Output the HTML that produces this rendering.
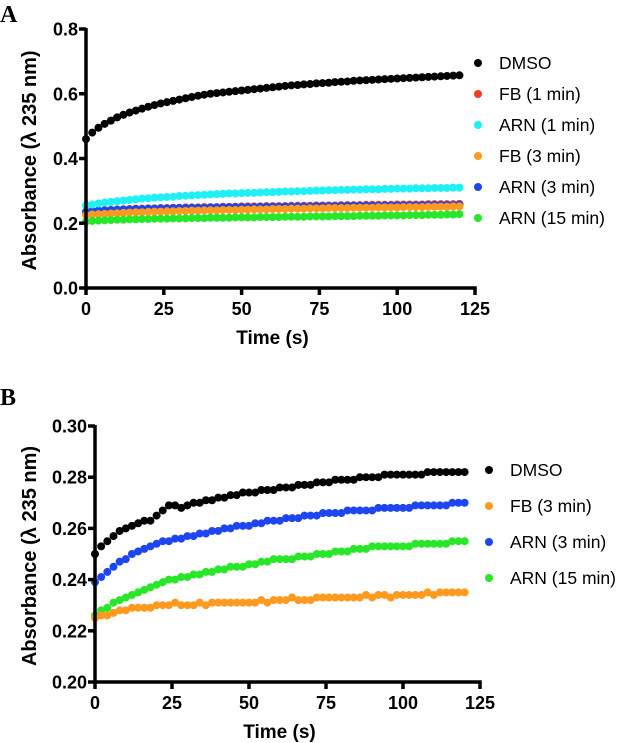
<!DOCTYPE html>
<html><head><meta charset="utf-8"><style>
html,body{margin:0;padding:0;background:#fff;}
svg{display:block;font-family:"Liberation Sans",Arial,sans-serif;}
.tick{font-size:18px;font-weight:bold;}
.title{font-size:20px;font-weight:bold;}
.xtitle{font-size:19px;font-weight:bold;}
.leg{font-size:17.5px;}
.panel{font-family:"Liberation Serif",serif;font-size:24px;font-weight:bold;}
</style></head><body>
<svg id="chart" width="633" height="743" viewBox="0 0 633 743"></svg>
<script>
// ---------- DATA ----------
const timesA = [];
for (let i = 0; i <= 60; i++) timesA.push(i * 2);
const timesB = timesA;
const xTicks = [0, 25, 50, 75, 100, 125];
const yTicksA = [0.0, 0.2, 0.4, 0.6, 0.8];
const yTickLabelsA = ["0.0", "0.2", "0.4", "0.6", "0.8"];
const yTicksB = [0.20, 0.22, 0.24, 0.26, 0.28, 0.30];
const yTickLabelsB = ["0.20", "0.22", "0.24", "0.26", "0.28", "0.30"];

const aDMSO = [0.46,0.48,0.495,0.507,0.517,0.527,0.535,0.542,0.548,0.554,0.560,0.565,0.570,0.574,0.578,0.582,0.586,0.590,0.594,0.597,0.600,0.602,0.604,0.606,0.608,0.610,0.612,0.614,0.616,0.618,0.620,0.622,0.624,0.626,0.627,0.629,0.630,0.632,0.633,0.634,0.636,0.637,0.638,0.640,0.641,0.642,0.643,0.644,0.645,0.646,0.647,0.648,0.649,0.650,0.651,0.652,0.653,0.654,0.655,0.656,0.657];
const aFB1 = [0.235,0.237,0.239,0.240,0.241,0.242,0.243,0.244,0.245,0.245,0.246,0.246,0.247,0.247,0.248,0.248,0.249,0.249,0.249,0.250,0.250,0.250,0.251,0.251,0.251,0.252,0.252,0.252,0.252,0.253,0.253,0.253,0.253,0.254,0.254,0.254,0.254,0.255,0.255,0.255,0.255,0.256,0.256,0.256,0.256,0.257,0.257,0.257,0.257,0.257,0.258,0.258,0.258,0.258,0.258,0.259,0.259,0.259,0.259,0.259,0.260];
const aARN1 = [0.255,0.258,0.261,0.264,0.266,0.268,0.270,0.272,0.274,0.276,0.277,0.279,0.280,0.281,0.282,0.284,0.285,0.286,0.287,0.288,0.289,0.290,0.291,0.292,0.292,0.293,0.294,0.294,0.295,0.296,0.296,0.297,0.298,0.298,0.299,0.299,0.300,0.301,0.301,0.302,0.302,0.303,0.303,0.304,0.304,0.305,0.305,0.305,0.306,0.306,0.307,0.307,0.307,0.308,0.308,0.308,0.309,0.309,0.309,0.310,0.310];
const aFB3 = [0.225,0.227,0.228,0.229,0.230,0.231,0.232,0.233,0.234,0.234,0.235,0.236,0.236,0.237,0.237,0.238,0.238,0.239,0.239,0.240,0.240,0.240,0.241,0.241,0.241,0.242,0.242,0.243,0.243,0.243,0.244,0.244,0.244,0.245,0.245,0.245,0.246,0.246,0.246,0.247,0.247,0.247,0.247,0.248,0.248,0.248,0.248,0.249,0.249,0.249,0.249,0.250,0.250,0.250,0.250,0.251,0.251,0.251,0.251,0.252,0.252];
const aARN3 = [0.236,0.238,0.239,0.240,0.241,0.242,0.243,0.243,0.244,0.244,0.245,0.245,0.246,0.246,0.247,0.247,0.247,0.248,0.248,0.248,0.249,0.249,0.249,0.249,0.250,0.250,0.250,0.250,0.251,0.251,0.251,0.251,0.252,0.252,0.252,0.252,0.252,0.253,0.253,0.253,0.253,0.253,0.254,0.254,0.254,0.254,0.254,0.254,0.255,0.255,0.255,0.255,0.255,0.255,0.256,0.256,0.256,0.256,0.256,0.256,0.257];
const aARN15 = [0.205,0.207,0.208,0.209,0.210,0.211,0.211,0.212,0.212,0.213,0.213,0.214,0.214,0.214,0.215,0.215,0.215,0.216,0.216,0.216,0.217,0.217,0.217,0.217,0.218,0.218,0.218,0.218,0.219,0.219,0.219,0.219,0.220,0.220,0.220,0.220,0.221,0.221,0.221,0.221,0.222,0.222,0.222,0.222,0.223,0.223,0.223,0.223,0.224,0.224,0.224,0.224,0.225,0.225,0.225,0.226,0.226,0.226,0.227,0.227,0.228];

const bDMSO = [0.250,0.253,0.255,0.257,0.259,0.260,0.261,0.262,0.263,0.263,0.265,0.267,0.269,0.269,0.268,0.269,0.270,0.270,0.271,0.271,0.272,0.272,0.273,0.273,0.274,0.274,0.274,0.275,0.275,0.275,0.276,0.276,0.276,0.277,0.277,0.277,0.278,0.278,0.278,0.279,0.279,0.279,0.279,0.280,0.280,0.280,0.280,0.281,0.281,0.281,0.281,0.281,0.281,0.281,0.282,0.282,0.282,0.282,0.282,0.282,0.282];
const bARN3 = [0.239,0.241,0.243,0.245,0.247,0.248,0.250,0.251,0.252,0.253,0.254,0.255,0.255,0.256,0.256,0.257,0.257,0.258,0.258,0.259,0.259,0.260,0.260,0.261,0.261,0.261,0.262,0.262,0.263,0.263,0.263,0.264,0.264,0.264,0.265,0.265,0.265,0.266,0.266,0.266,0.266,0.267,0.267,0.267,0.267,0.267,0.268,0.268,0.268,0.268,0.268,0.268,0.269,0.269,0.269,0.269,0.269,0.269,0.270,0.270,0.270];
const bARN15 = [0.226,0.228,0.229,0.231,0.232,0.233,0.234,0.235,0.236,0.237,0.238,0.239,0.240,0.240,0.241,0.241,0.242,0.242,0.243,0.243,0.244,0.244,0.245,0.245,0.245,0.246,0.246,0.247,0.247,0.248,0.248,0.248,0.248,0.249,0.249,0.249,0.250,0.250,0.250,0.251,0.251,0.251,0.252,0.252,0.252,0.253,0.253,0.253,0.253,0.253,0.253,0.253,0.254,0.254,0.254,0.254,0.254,0.254,0.255,0.255,0.255];
const bFB3 = [0.225,0.226,0.226,0.227,0.228,0.228,0.229,0.229,0.229,0.229,0.230,0.230,0.230,0.231,0.230,0.230,0.230,0.231,0.230,0.231,0.231,0.231,0.231,0.231,0.231,0.231,0.231,0.232,0.231,0.232,0.232,0.232,0.233,0.232,0.232,0.232,0.233,0.233,0.233,0.233,0.233,0.233,0.233,0.233,0.234,0.233,0.234,0.234,0.233,0.234,0.234,0.234,0.234,0.234,0.235,0.234,0.235,0.235,0.235,0.235,0.235];

const seriesA = [
  {name:"DMSO", key:"dmso", color:"#000000", values:aDMSO},
  {name:"FB (1 min)", key:"fb-1min", color:"#f23c1e", values:aFB1},
  {name:"ARN (1 min)", key:"arn-1min", color:"#1ef0f5", values:aARN1},
  {name:"FB (3 min)", key:"fb-3min", color:"#ff9a1e", values:aFB3},
  {name:"ARN (3 min)", key:"arn-3min", color:"#1e46f0", values:aARN3},
  {name:"ARN (15 min)", key:"arn-15min", color:"#28e628", values:aARN15}
];
const drawOrderA = [0,1,4,2,3,5];
const seriesB = [
  {name:"DMSO", key:"dmso", color:"#000000", values:bDMSO},
  {name:"FB (3 min)", key:"fb-3min", color:"#ff9a1e", values:bFB3},
  {name:"ARN (3 min)", key:"arn-3min", color:"#1e46f0", values:bARN3},
  {name:"ARN (15 min)", key:"arn-15min", color:"#28e628", values:bARN15}
];

// ---------- DRAW ----------
const NS = "http://www.w3.org/2000/svg";
const svg = document.getElementById("chart");
function mk(tag, attrs, parent, text) {
  const e = document.createElementNS(NS, tag);
  for (const k in attrs) e.setAttribute(k, attrs[k]);
  if (text !== undefined) e.textContent = text;
  (parent || svg).appendChild(e);
  return e;
}

function panel(cfg) {
  const g = mk("g", {});
  
  
  const xs = v => cfg.x0 + (v - 0) / 125 * (cfg.x1 - cfg.x0);
  const ys = v => cfg.yb - (v - cfg.ymin) / (cfg.ymax - cfg.ymin) * (cfg.yb - cfg.yt);

  const lbl = mk("text", {x: 0, y: cfg.ly, class: "panel"}, g, cfg.label);
  
  

  cfg.order.forEach(i => {
    const s = cfg.series[i];
    const sg = mk("g", {fill: s.color}, g);
    
    
    s.values.forEach((v, j) => {
      const c = mk("circle", {cx: xs(cfg.times[j]), cy: ys(v), r: 4}, sg);
      
      
    });
  });

  const ax = mk("g", {stroke: "#000", "stroke-width": 3.5, fill: "none"}, g);
  
  
  mk("line", {x1: cfg.x0, y1: cfg.yt - 1, x2: cfg.x0, y2: cfg.yb + 1.7}, ax);
  mk("line", {x1: cfg.x0 - 1.7, y1: cfg.yb, x2: cfg.x1 + 1.7, y2: cfg.yb}, ax);
  xTicks.forEach(t => {
    mk("line", {x1: xs(t), y1: cfg.yb, x2: xs(t), y2: cfg.yb + 7}, ax);
    const tx = mk("text", {x: xs(t), y: cfg.yb + 27, "text-anchor": "middle", class: "tick"}, g, String(t));
    
    
  });
  cfg.yTicks.forEach((t, i) => {
    mk("line", {x1: cfg.x0 - 7, y1: ys(t), x2: cfg.x0, y2: ys(t)}, ax);
    const tx = mk("text", {x: cfg.x0 - 8, y: ys(t) + 6.5, "text-anchor": "end", class: "tick"}, g, cfg.yLabels[i]);
    
    
  });
  const xt = mk("text", {x: (cfg.x0 + cfg.x1) / 2 - 8, y: cfg.yb + 56, "text-anchor": "middle", class: "xtitle"}, g, "Time (s)");
  
  
  const ytY = (cfg.yt + cfg.yb) / 2 + 2;
  const yt = mk("text", {x: 0, y: 0, "text-anchor": "middle", class: "title", transform: `translate(${cfg.ytx},${ytY}) rotate(-90)`}, g, "Absorbance (λ 235 nm)");
  
  

  const lg = mk("g", {}, g);
  
  
  cfg.series.forEach((s, i) => {
    const y = cfg.legY + i * cfg.legDy;
    const eg = mk("g", {}, lg);
    
    
    mk("circle", {cx: cfg.legX, cy: y, r: 4, fill: s.color}, eg);
    mk("text", {x: cfg.legX + 21, y: y + 6, class: "leg"}, eg, s.name);
  });
}

panel({id: "panel-a", label: "A", ly: 22, x0: 86, x1: 475, yt: 29, yb: 288,
  ymin: 0, ymax: 0.8, yTicks: yTicksA, yLabels: yTickLabelsA, times: timesA,
  series: seriesA, order: drawOrderA, ytx: 36, legX: 478, legY: 63, legDy: 31});
panel({id: "panel-b", label: "B", ly: 405, x0: 95, x1: 480, yt: 426, yb: 682,
  ymin: 0.20, ymax: 0.30, yTicks: yTicksB, yLabels: yTickLabelsB, times: timesB,
  series: seriesB, order: [0,2,3,1], ytx: 36, legX: 489, legY: 470, legDy: 36});
</script>
</body></html>
